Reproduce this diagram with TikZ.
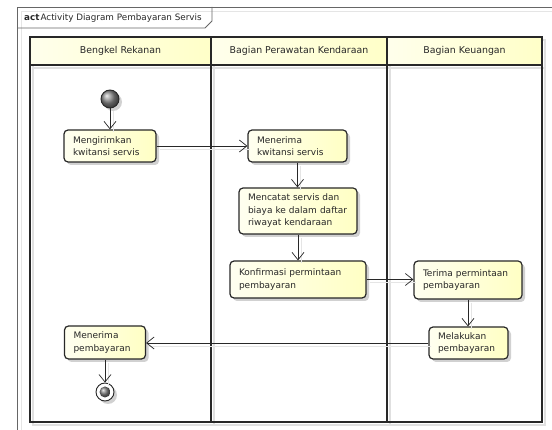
\documentclass[tikz,border=0pt]{standalone}
\usepackage{fontspec}
\setmainfont{DejaVu Sans}
\usetikzlibrary{arrows.meta,shadows}

\definecolor{ylight}{RGB}{255,255,240}
\definecolor{ydeep}{RGB}{255,255,196}
\definecolor{hlight}{RGB}{255,255,236}
\definecolor{hdeep}{RGB}{255,255,200}
\definecolor{ink}{RGB}{40,40,40}

\tikzset{
  action/.style={draw=ink, line width=1.2pt, rounded corners=4pt,
    left color=ylight, right color=ydeep,
    inner xsep=9pt, inner ysep=2pt, align=left, text=ink,
    font=\fontsize{9}{12.5}\selectfont,
    drop shadow={shadow xshift=3pt, shadow yshift=-3pt, fill=black!18, opacity=1}},
  lanehead/.style={font=\fontsize{9.4}{11}\selectfont, text=ink},
  laneline/.style={draw=ink, line width=1.8pt},
  laneshade/.style={draw=black!12, line width=1.2pt},
  frameline/.style={draw=black!60, line width=0.8pt},
  frameshade/.style={draw=black!10, line width=0.9pt},
  flow/.style={draw=ink, line width=0.7pt, -{Straight Barb[length=7.5pt,width=12pt,line width=0.7pt]}},
  flowshade/.style={draw=black!10, line width=0.9pt, transform canvas={shift={(3pt,-3pt)}}},
}

\begin{document}
\begin{tikzpicture}[x=1pt,y=-1pt]
\useasboundingbox[fill=white] (0,0) rectangle (552,430);

% diagram frame and its name tab
\draw[frameshade] (21,430) -- (21,11) -- (552,11);
\draw[frameline] (17,430) -- (17,7) -- (552,7);
\draw[frameline] (17,28) -- (205,28) -- (212,21) -- (212,7);
\node[anchor=base west, inner sep=0pt, text=ink, font=\fontsize{8.8}{10}\selectfont]
  (title) at (24,21) {\textbf{act}\kern1pt Activity Diagram Pembayaran Servis};

% swimlane shadow
\draw[laneshade] (33,40) rectangle (545,425);
\draw[laneshade] (214,40) -- (214,425);
\draw[laneshade] (390,40) -- (390,425);
\draw[laneshade] (33,68) -- (545,68);

% swimlane headers
\shade[left color=hlight, right color=hdeep] (30,37) rectangle (211,65);
\shade[left color=hlight, right color=hdeep] (211,37) rectangle (387,65);
\shade[left color=hlight, right color=hdeep] (387,37) rectangle (542,65);

% swimlane outlines
\draw[laneline] (30,37) rectangle (542,422);
\draw[laneline] (30,65) -- (542,65);
\draw[laneline] (211,37) -- (211,422);
\draw[laneline] (387,37) -- (387,422);

\node[lanehead] (laneA) at (120.5,51) {Bengkel Rekanan};
\node[lanehead] (laneB) at (299,51) {Bagian Perawatan Kendaraan};
\node[lanehead] (laneC) at (464.5,51) {Bagian Keuangan};

% initial node
\fill[black!18] (113,102) circle (9);
\node[circle, draw=ink, line width=0.9pt, minimum size=18pt, inner sep=0pt,
  shading=ball, ball color=black!45] (start) at (110,99) {};

% actions
\node[action, text width=74pt, minimum height=32pt] (send) at (110,146)
  {Mengirimkan\\kwitansi servis};
\node[action, text width=81pt, minimum height=32pt] (recv) at (297.5,146)
  {Menerima\\kwitansi servis};
\node[action, text width=100pt, minimum height=46pt] (log) at (298,211)
  {Mencatat servis dan\\biaya ke dalam daftar\\riwayat kendaraan};
\node[action, text width=118pt, minimum height=37pt] (conf) at (298,279.5)
  {Konfirmasi permintaan\\pembayaran};
\node[action, text width=90pt, minimum height=38pt] (req) at (468,280)
  {Terima permintaan\\pembayaran};
\node[action, text width=61pt, minimum height=32pt] (pay) at (468.5,343)
  {Melakukan\\pembayaran};
\node[action, text width=63pt, minimum height=33pt] (paid) at (105,342.5)
  {Menerima\\pembayaran};

% final node
\fill[black!18] (108,395) circle (9);
\node[circle, draw=ink, fill=white, line width=0.9pt, minimum size=18pt, inner sep=0pt]
  (stop) at (105,392) {};
\shade[ball color=black!50] (stop.center) circle (5.5);

% control flows, each with its soft shadow
\foreach \sty in {flowshade,flow} {
  \draw[\sty] (start) -- (send);
  \draw[\sty] (send.east) -- (recv.west);
  \draw[\sty] (recv.south) -- (recv.south |- log.north);
  \draw[\sty] (log.south) -- (log.south |- conf.north);
  \draw[\sty] (conf.east) -- (conf.east -| req.west);
  \draw[\sty] (req.south) -- (req.south |- pay.north);
  \draw[\sty] (pay.west) -- (pay.west -| paid.east);
  \draw[\sty] (paid.south) -- (stop);
}
\end{tikzpicture}
\end{document}
